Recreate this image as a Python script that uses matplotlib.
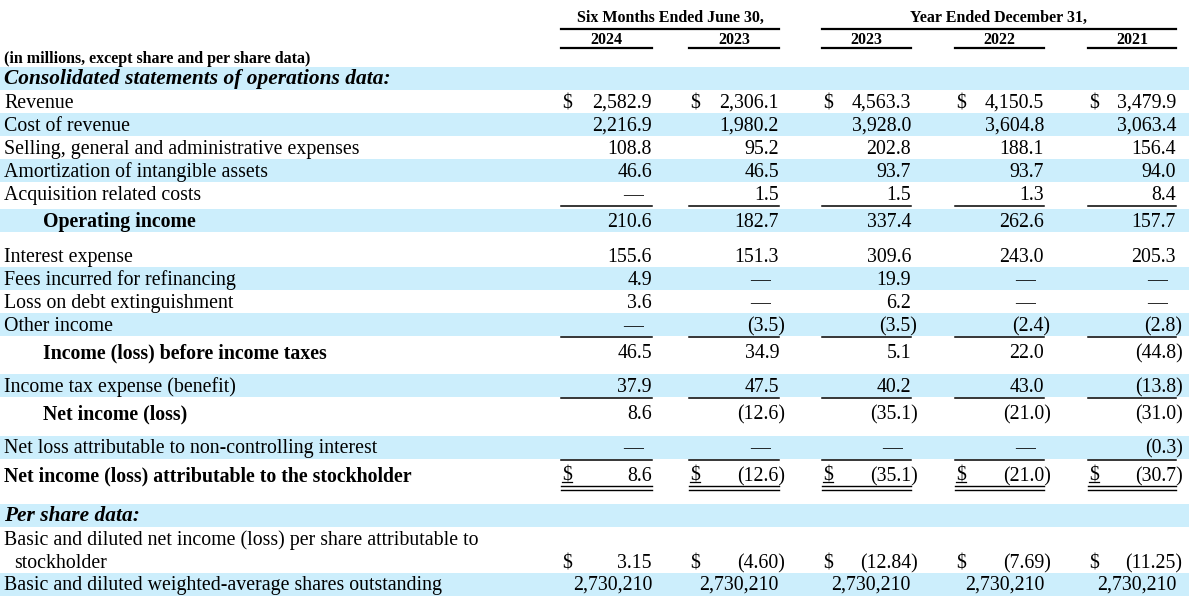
import matplotlib
matplotlib.use("Agg")
import matplotlib.pyplot as plt

# --- data -----------------------------------------------------------------
group_headers = ["Six Months Ended June 30,", "Year Ended December 31,"]
col_headers = ["2024", "2023", "2023", "2022", "2021"]

row_labels = [
    "Revenue",
    "Cost of revenue",
    "Selling, general and administrative expenses",
    "Amortization of intangible assets",
    "Acquisition related costs",
    "Operating income",
    "Interest expense",
    "Fees incurred for refinancing",
    "Loss on debt extinguishment",
    "Other income",
    "Income (loss) before income taxes",
    "Income tax expense (benefit)",
    "Net income (loss)",
    "Net loss attributable to non-controlling interest",
    "Net income (loss) attributable to the stockholder",
    "Basic and diluted net income (loss) per share attributable to",
    "Basic and diluted weighted-average shares outstanding",
]

six_2024 = [2582.9, 2216.9, 108.8, 46.6, None, 210.6, 155.6, 4.9, 3.6, None,
            46.5, 37.9, 8.6, None, 8.6, 3.15, 2730210]
six_2023 = [2306.1, 1980.2, 95.2, 46.5, 1.5, 182.7, 151.3, None, None, -3.5,
            34.9, 47.5, -12.6, None, -12.6, -4.60, 2730210]
fy_2023 = [4563.3, 3928.0, 202.8, 93.7, 1.5, 337.4, 309.6, 19.9, 6.2, -3.5,
           5.1, 40.2, -35.1, None, -35.1, -12.84, 2730210]
fy_2022 = [4150.5, 3604.8, 188.1, 93.7, 1.3, 262.6, 243.0, None, None, -2.4,
           22.0, 43.0, -21.0, None, -21.0, -7.69, 2730210]
fy_2021 = [3479.9, 3063.4, 156.4, 94.0, 8.4, 157.7, 205.3, None, None, -2.8,
           -44.8, -13.8, -31.0, -0.3, -30.7, -11.25, 2730210]
columns = [six_2024, six_2023, fy_2023, fy_2022, fy_2021]

# --- layout (pixel space) -------------------------------------------------
W, H = 1189, 603
BLUE = "#cceefc"
FONT = "Liberation Serif"
FS = 14.3          # body text
FS_HEAD = 11.5     # bold header text
FS_SECTION = 15.4  # bold italic section titles

row_y = [102, 125, 148, 171, 194, 221, 256, 279, 302, 325, 352, 386, 413,
         447, 475, 562, 584]
bold_rows = {5, 10, 12, 14}
indent_rows = {5, 10, 12}
dollar_rows = {0, 14, 15}
decimals = {15: 2, 16: 0}
bands = [(67, 90), (113, 136), (159, 182), (209, 232), (267, 290), (313, 336),
         (374, 397), (436, 459), (504, 527), (573, 596)]
rules_after = [206, 336.5, 398, 459.5]
col_left = [561, 689, 822, 955, 1088]
col_right = [652, 779, 911, 1044, 1176]
PAREN = 6.5        # width of the hanging ")"

fig = plt.figure(figsize=(W / 100, H / 100), dpi=100)
ax = fig.add_axes([0, 0, 1, 1])
ax.set_xlim(0, W)
ax.set_ylim(H, 0)
ax.axis("off")

for y0, y1 in bands:
    ax.fill_between([0, W], y0, y1, color=BLUE, lw=0, zorder=0)


def txt(x, y, s, ha="left", weight="normal", style="normal", size=FS):
    ax.text(x, y + 6, s, ha=ha, va="baseline", fontsize=size, family=FONT,
            fontweight=weight, fontstyle=style, color="black")


# headers
spans = [(col_left[0], col_right[1]), (col_left[2], col_right[4])]
for (x0, x1), name in zip(spans, group_headers):
    txt((x0 + x1) / 2, 16, name, ha="center", weight="bold", size=FS_HEAD)
    ax.plot([x0, x1], [28.5, 28.5], color="black", lw=1.6)
for x0, x1, name in zip(col_left, col_right, col_headers):
    txt((x0 + x1) / 2, 38, name, ha="center", weight="bold", size=FS_HEAD)
    ax.plot([x0, x1], [48, 48], color="black", lw=1.6)

txt(4, 57, "(in millions, except share and per share data)", weight="bold",
    size=FS_HEAD)
txt(4, 78, "Consolidated statements of operations data:", weight="bold",
    style="italic", size=FS_SECTION)
txt(4, 515, "Per share data:", weight="bold", style="italic", size=FS_SECTION)

# row labels
for i, (label, y) in enumerate(zip(row_labels, row_y)):
    x = 43 if i in indent_rows else 4
    w = "bold" if i in bold_rows else "normal"
    if i == 15:
        txt(4, 539, label)
        txt(14, 562, "stockholder")
    else:
        txt(x, y, label, weight=w)

# values
for c, vals in enumerate(columns):
    right = col_right[c]
    for i, (v, y) in enumerate(zip(vals, row_y)):
        if i in dollar_rows:
            txt(col_left[c] + 1, y, "$")
        if v is None:
            txt(right - 9, y, "\u2014", ha="right")
            continue
        d = decimals.get(i, 1)
        s = f"{abs(v):,.{d}f}"
        if v < 0:
            txt(right + PAREN, y, "(" + s + ")", ha="right")
        else:
            txt(right, y, s, ha="right")
    for ry in rules_after:
        ax.plot([col_left[c], right], [ry, ry], color="black", lw=1.1)
    for ry in (486, 489.5):
        ax.plot([col_left[c], right], [ry, ry], color="black", lw=1.0)
    ax.plot([col_left[c] + 1, col_left[c] + 11], [481.5, 481.5], color="black",
            lw=0.9)

fig.savefig("out.png", dpi=100)
